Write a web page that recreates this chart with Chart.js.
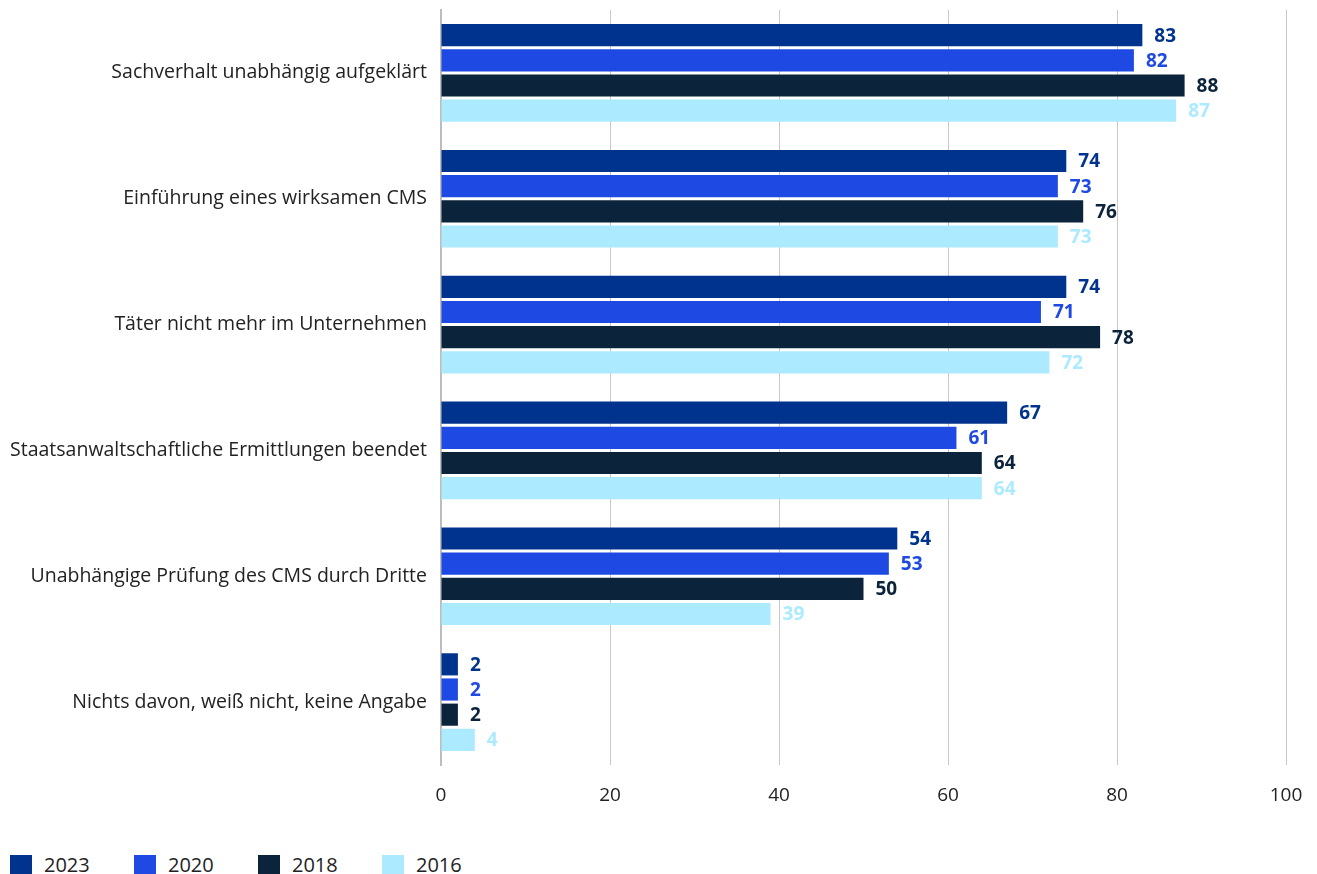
<!DOCTYPE html>
<html lang="de">
<head>
<meta charset="utf-8">
<script src="https://cdn.jsdelivr.net/npm/chart.js@4"></script>
<style>
  body { margin: 0; background: #fff; font-family: "Open Sans", "Noto Sans", sans-serif; }
  #wrap { position: relative; width: 1317px; height: 830px; }
  #legend { position: absolute; left: 10px; top: 851px; display: flex; font-size: 20px; color: #222; }
  #legend .item { display: flex; align-items: center; width: 124px; }
  #legend .box { width: 22px; height: 20px; margin-right: 12px; }
</style>
</head>
<body>
<div id="wrap"><canvas id="chart"></canvas></div>
<div id="legend"></div>
<script>
// categories and values per survey year
const categories = [
    'Sachverhalt unabhängig aufgeklärt',
    'Einführung eines wirksamen CMS',
    'Täter nicht mehr im Unternehmen',
    'Staatsanwaltschaftliche Ermittlungen beendet',
    'Unabhängige Prüfung des CMS durch Dritte',
    'Nichts davon, weiß nicht, keine Angabe'
];
const years = ['2023', '2020', '2018', '2016'];
const values2023 = [83, 74, 74, 67, 54, 2];
const values2020 = [82, 73, 71, 61, 53, 2];
const values2018 = [88, 76, 78, 64, 50, 2];
const values2016 = [87, 73, 72, 64, 39, 4];
const xTicks = [0, 20, 40, 60, 80, 100];

const colors = ['#00338D', '#1E49E2', '#0C233C', '#ACEAFF'];
const series = [values2023, values2020, values2018, values2016];
const FONT = '"Open Sans", "Noto Sans", sans-serif';

// value labels right of each bar
const barLabels = {
    id: 'barLabels',
    afterDatasetsDraw(chart) {
        const ctx = chart.ctx;
        ctx.save();
        ctx.font = 'bold 19px ' + FONT;
        ctx.textBaseline = 'middle';
        ctx.textAlign = 'left';
        chart.data.datasets.forEach((ds, i) => {
            chart.getDatasetMeta(i).data.forEach((bar, j) => {
                ctx.fillStyle = ds.backgroundColor;
                ctx.fillText(String(ds.data[j]), bar.x + 12, bar.y + 1);
            });
        });
        ctx.restore();
    }
};

new Chart(document.getElementById('chart'), {
    type: 'bar',
    data: {
        labels: categories,
        datasets: years.map((y, i) => ({
            label: y,
            data: series[i],
            backgroundColor: colors[i],
            borderWidth: 0,
            categoryPercentage: 0.8,
            barPercentage: 0.88
        }))
    },
    options: {
        indexAxis: 'y',
        responsive: true,
        maintainAspectRatio: false,
        animation: false,
        layout: { padding: { top: 10, right: 31, left: 0, bottom: 0 } },
        plugins: {
            legend: { display: false },
            tooltip: { enabled: false }
        },
        scales: {
            x: {
                min: 0,
                max: 100,
                afterBuildTicks(scale) {
                    scale.ticks = xTicks.map(v => ({ value: v }));
                },
                afterFit(scale) {
                    scale.height = 65;
                    scale.paddingLeft = 0;
                    scale.paddingRight = 0;
                },
                grid: { color: '#c8c8c8', drawTicks: false },
                border: { display: false },
                ticks: {
                    padding: 19,
                    color: '#222',
                    font: { size: 19, family: FONT }
                }
            },
            y: {
                afterFit(scale) {
                    scale.width = 441;
                    scale.paddingTop = 0;
                    scale.paddingBottom = 0;
                },
                grid: { display: false, drawTicks: false },
                border: { display: true, color: '#bdbdbd', width: 2 },
                ticks: {
                    padding: 14,
                    color: '#222',
                    font: { size: 19.5, family: FONT }
                }
            }
        }
    },
    plugins: [barLabels]
});

// legend
const legend = document.getElementById('legend');
years.forEach((y, i) => {
    const item = document.createElement('div');
    item.className = 'item';
    item.innerHTML = '<span class="box" style="background:' + colors[i] + '"></span>' + y;
    legend.appendChild(item);
});
</script>
</body>
</html>
